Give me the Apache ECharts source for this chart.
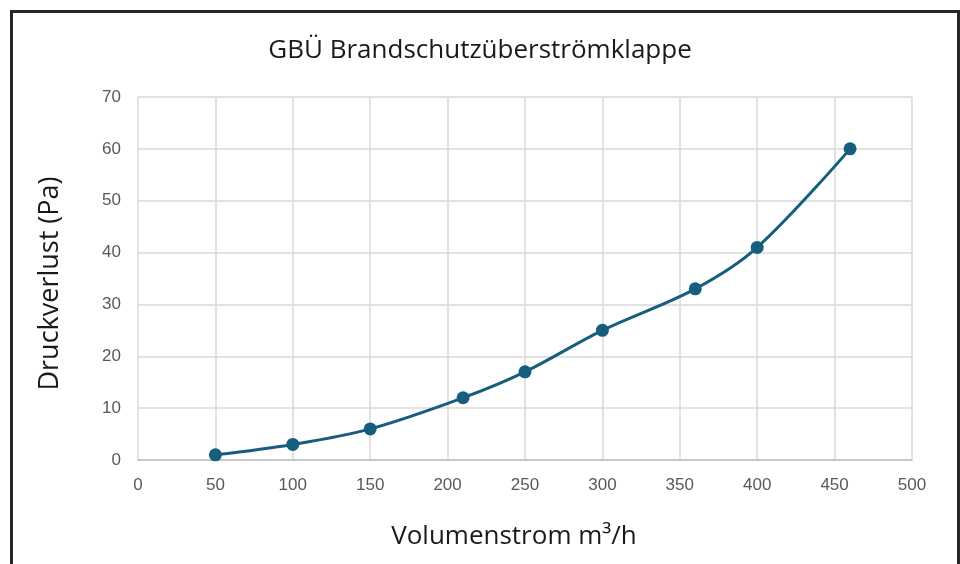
<!DOCTYPE html>
<html>
<head>
<meta charset="utf-8">
<script src="https://cdn.jsdelivr.net/npm/echarts@6/dist/echarts.min.js"></script>
<style>
  body { margin: 0; background: #fff; }
  #chart { position: absolute; left: 0; top: 0; width: 960px; height: 564px; }
  #frame { position: absolute; left: 10px; top: 10px; width: 944px; height: 600px; border: 3px solid #262626; pointer-events: none; }
</style>
</head>
<body>
<div id="chart"></div>
<div id="frame"></div>
<script>
  // Volumenstrom (m³/h) und Druckverlust (Pa)
  var volumenstrom = [50, 100, 150, 210, 250, 300, 360, 400, 460]
  var druckverlust = [1, 3, 6, 12, 17, 25, 33, 41, 60]

  var points = []
  for (var i = 0; i < volumenstrom.length; i++) {
    points.push([volumenstrom[i], druckverlust[i]])
  }

  var labelFont = 'Liberation Sans, Arial, sans-serif'
  var titleFont = 'Open Sans, sans-serif'

  var chart = echarts.init(document.getElementById('chart'))
  chart.setOption({
    animation: false,
    title: {
      text: 'GBÜ Brandschutzüberströmklappe',
      left: 'center',
      top: 33,
      textStyle: { fontFamily: titleFont, fontSize: 26, fontWeight: 'normal', color: '#1a1a1a' }
    },
    grid: { left: 138, right: 48, top: 97, bottom: 104, outerBoundsMode: 'none', containLabel: false },
    xAxis: {
      type: 'value',
      min: 0,
      max: 500,
      interval: 50,
      name: 'Volumenstrom m³/h',
      nameLocation: 'middle',
      nameGap: 64,
      nameTextStyle: { fontFamily: titleFont, fontSize: 26, color: '#1a1a1a', padding: [0, 22, 0, 0] },
      axisLine: { show: true, lineStyle: { color: '#bfbfbf', width: 1.5 } },
      axisTick: { show: false },
      axisLabel: { fontFamily: labelFont, fontSize: 17, color: '#595959', margin: 17 },
      splitLine: { show: true, lineStyle: { color: '#d9d9d9', width: 1.5 } }
    },
    yAxis: {
      type: 'value',
      min: 0,
      max: 70,
      interval: 10,
      name: 'Druckverlust (Pa)',
      nameLocation: 'middle',
      nameGap: 74,
      nameTextStyle: { fontFamily: titleFont, fontSize: 27, color: '#1a1a1a', padding: [0, 10, 0, 0] },
      axisLine: { show: false },
      axisTick: { show: false },
      axisLabel: { fontFamily: labelFont, fontSize: 17, color: '#595959', margin: 17 },
      splitLine: { show: true, lineStyle: { color: '#d9d9d9', width: 1.5 } }
    },
    series: [
      {
        type: 'line',
        data: points,
        smooth: 0.35,
        symbol: 'circle',
        symbolSize: 13,
        lineStyle: { color: '#175e7e', width: 3 },
        itemStyle: { color: '#175e7e' }
      }
    ]
  })
</script>
</body>
</html>
